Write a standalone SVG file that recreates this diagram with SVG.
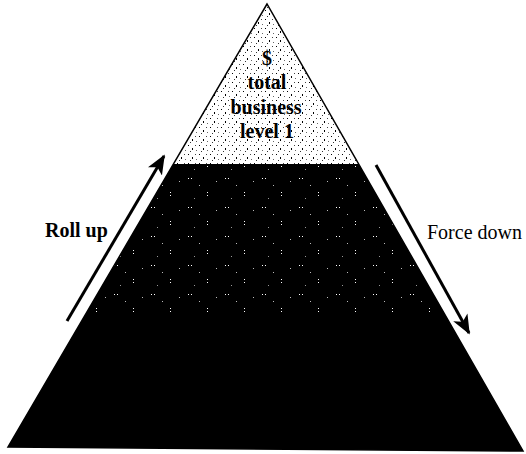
<svg xmlns="http://www.w3.org/2000/svg" width="526" height="454" viewBox="0 0 526 454">
  <style>
    .lbl { font-family: "Liberation Serif", "Times New Roman", serif; fill: #000; }
    .top { font-size: 20px; font-weight: bold; text-anchor: middle; }
    .arrow { stroke: #000; stroke-width: 3; fill: none; marker-end: url(#head); }
  </style>
  <defs>
    <marker id="head" viewBox="0 0 12 10" refX="11" refY="5" markerWidth="6.5" markerHeight="5.5" orient="auto" markerUnits="strokeWidth">
      <path d="M0,0 L12,5 L0,10 L3,5 Z" fill="#000"/>
    </marker>
    <pattern id="speckle" width="11" height="9" patternUnits="userSpaceOnUse">
      <rect width="11" height="9" fill="#fff"/>
      <rect x="1" y="1" width="1" height="1" fill="#000"/>
      <rect x="5" y="4" width="1" height="2" fill="#000"/>
      <rect x="8" y="1" width="1" height="1" fill="#444"/>
      <rect x="3" y="7" width="1" height="1" fill="#333"/>
      <rect x="9" y="6" width="1" height="1" fill="#666"/>
    </pattern>
    <pattern id="dots" width="37" height="29" patternUnits="userSpaceOnUse">
      <rect width="37" height="29" fill="#000"/>
      <rect x="3" y="4" width="1" height="1" fill="#fff"/>
      <rect x="6" y="4" width="1" height="1" fill="#fff"/>
      <rect x="22" y="18" width="1" height="1" fill="#fff"/>
      <rect x="22" y="21" width="1" height="1" fill="#fff"/>
      <rect x="14" y="11" width="1" height="1" fill="#bbb"/>
      <rect x="31" y="7" width="1" height="1" fill="#bbb"/>
      <rect x="9" y="24" width="1" height="1" fill="#999"/>
    </pattern>
    <clipPath id="pyr">
      <polygon points="267,4 8,447 523,451"/>
    </clipPath>
  </defs>

  <g id="pyramid" clip-path="url(#pyr)">
    <g id="level1">
      <rect x="0" y="0" width="526" height="164" fill="url(#speckle)"/>
    </g>
    <g id="level2">
      <rect x="0" y="164" width="526" height="148" fill="url(#dots)"/>
    </g>
    <g id="level3">
      <rect x="0" y="312" width="526" height="142" fill="#000"/>
    </g>
  </g>
  <polygon points="267,4 8,447 523,451" fill="none" stroke="#000" stroke-width="1.5"/>

  <g id="level1-label">
    <text class="lbl top" x="267" y="65">$</text>
    <text class="lbl top" x="267" y="89">total</text>
    <text class="lbl top" x="266" y="114">business</text>
    <text class="lbl top" x="267" y="138">level 1</text>
  </g>

  <g id="connectors">
    <line class="arrow" x1="67" y1="321" x2="164" y2="156"/>
    <line class="arrow" x1="376" y1="165" x2="469" y2="333"/>
  </g>

  <g id="roll-up">
    <text class="lbl" x="45" y="237" font-size="20" font-weight="bold">Roll up</text>
  </g>
  <g id="force-down">
    <text class="lbl" x="427" y="239" font-size="20">Force down</text>
  </g>
</svg>
